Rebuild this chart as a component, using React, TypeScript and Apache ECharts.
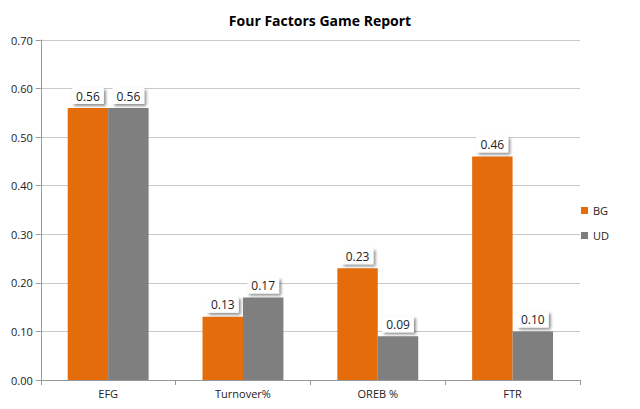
import { useRef, useEffect } from 'react'
import * as echarts from 'echarts'

const categories = ['EFG', 'Turnover%', 'OREB %', 'FTR']
const bgValues = [0.56, 0.13, 0.23, 0.46]
const udValues = [0.56, 0.17, 0.09, 0.1]

const labelStyle = {
  show: true,
  position: 'top' as const,
  formatter: (p: any) => p.value.toFixed(2),
  color: '#222',
  fontSize: 12,
  backgroundColor: '#fff',
  padding: [2, 4],
  shadowColor: 'rgba(0,0,0,0.45)',
  shadowBlur: 3,
  shadowOffsetX: 2,
  shadowOffsetY: 2,
  distance: 4,
}

export default function App() {
  const ref = useRef<HTMLDivElement>(null)

  useEffect(() => {
    if (!ref.current) return
    const chart = echarts.init(ref.current, undefined, { renderer: 'svg' })
    chart.setOption({
      animation: false,
      textStyle: { fontFamily: '"Open Sans", sans-serif' },
      title: {
        text: 'Four Factors Game Report',
        left: 'center',
        top: 0,
        textStyle: { fontSize: 14, fontWeight: 'bold', color: '#000' },
      },
      legend: {
        orient: 'vertical',
        right: 18,
        top: 192,
        itemWidth: 7,
        itemHeight: 7,
        itemGap: 14,
        icon: 'rect',
        textStyle: { fontSize: 11, color: '#222' },
        data: ['BG', 'UD'],
      },
      grid: { left: 32, right: 52, top: 32, bottom: 21 },
      xAxis: {
        type: 'category',
        data: categories,
        axisLine: { lineStyle: { color: '#999' } },
        axisTick: { show: true, lineStyle: { color: '#999' } },
        axisLabel: { color: '#222', fontSize: 11 },
      },
      yAxis: {
        type: 'value',
        min: 0,
        max: 0.7,
        interval: 0.1,
        axisLine: { show: true, lineStyle: { color: '#999' } },
        axisTick: { show: true, lineStyle: { color: '#999' } },
        axisLabel: { color: '#222', fontSize: 11, formatter: (v: number) => v.toFixed(2) },
        splitLine: { lineStyle: { color: '#c8c8c8' } },
      },
      series: [
        {
          name: 'BG',
          type: 'bar',
          data: bgValues,
          barWidth: '30%',
          barGap: '0%',
          itemStyle: { color: '#E46C0A' },
          label: labelStyle,
        },
        {
          name: 'UD',
          type: 'bar',
          data: udValues,
          barWidth: '30%',
          itemStyle: { color: '#7F7F7F' },
          label: labelStyle,
        },
      ],
    })
    return () => chart.dispose()
  }, [])

  return <div ref={ref} style={{ width: 624, height: 393 }} />
}
